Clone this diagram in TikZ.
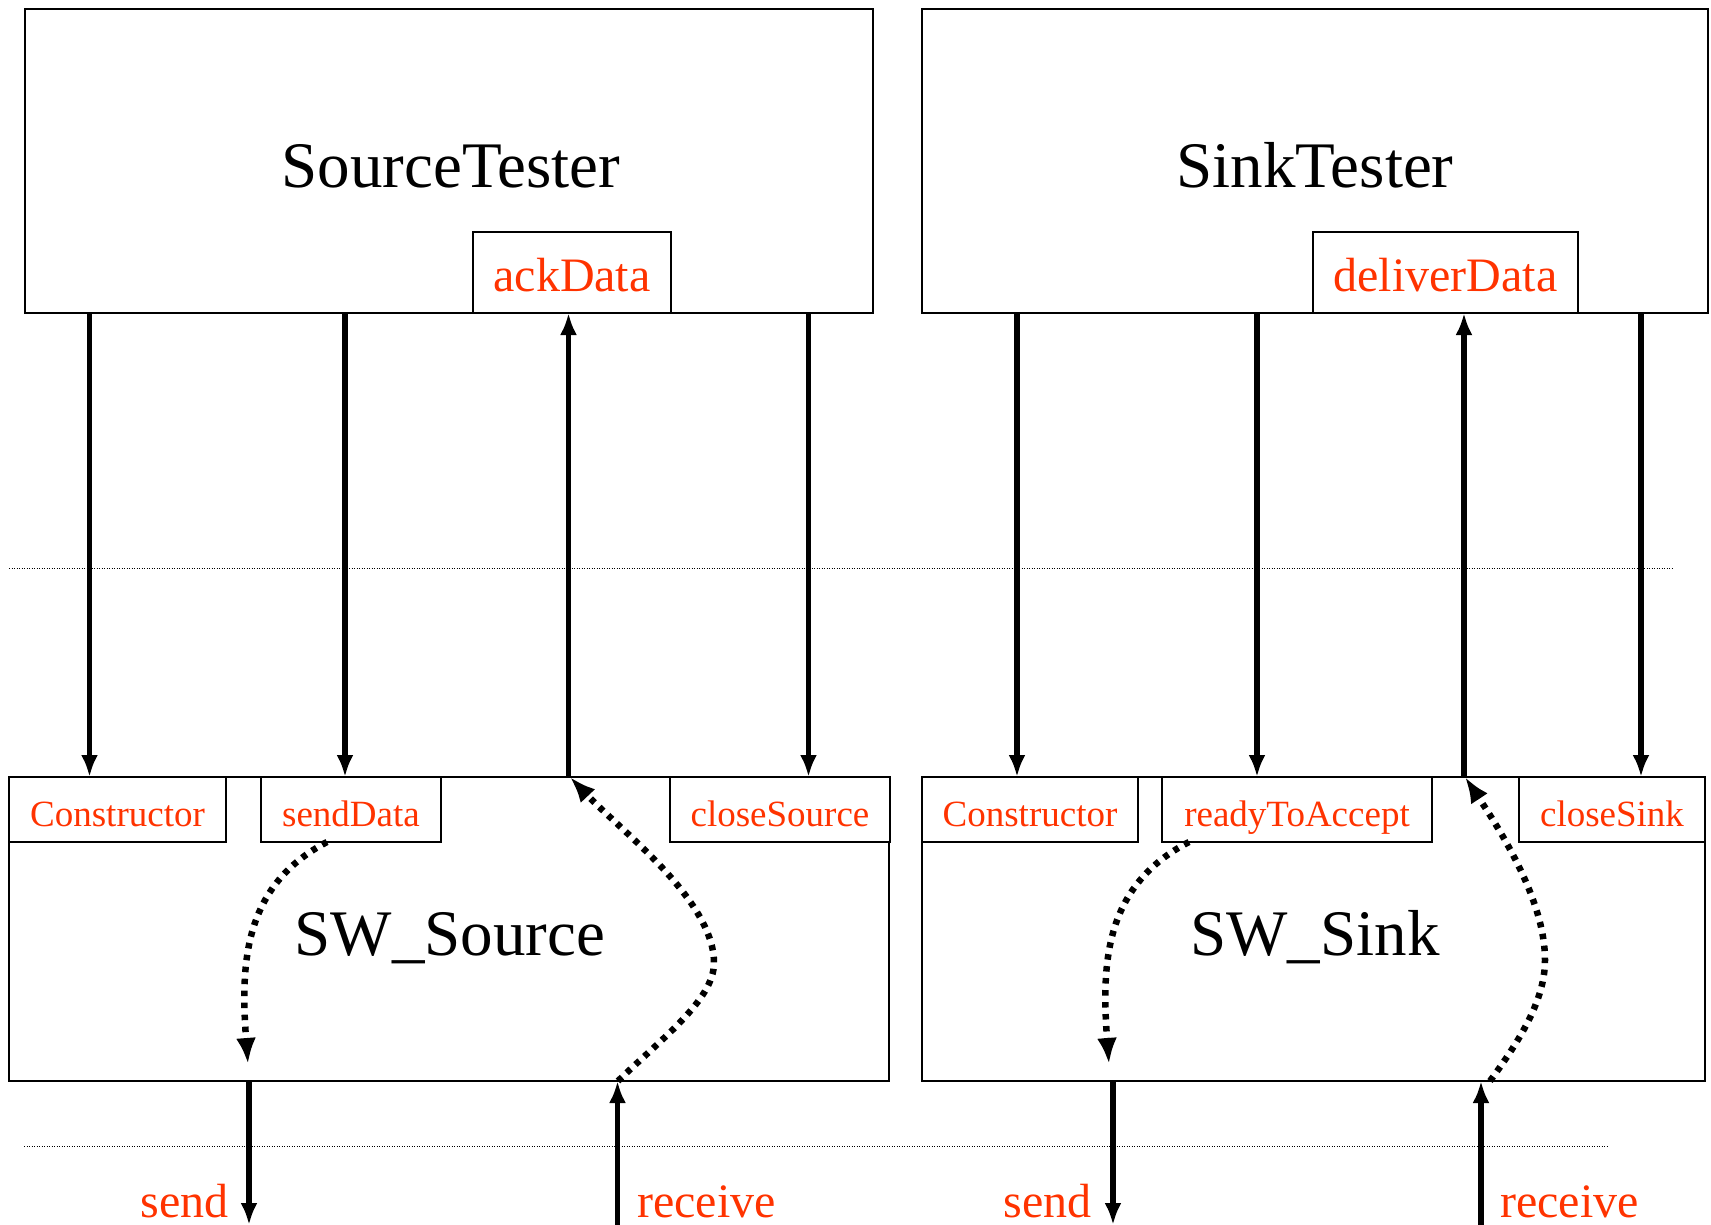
\documentclass[tikz,border=0pt]{standalone}
\usepackage{fontspec}
\setmainfont{Liberation Serif}
\usetikzlibrary{arrows.meta}
\definecolor{lblred}{HTML}{FF3300}
\begin{document}
\begin{tikzpicture}[x=1pt,y=-1pt,
  box/.style={draw=black, line width=1.6pt, fill=white, inner sep=0pt, outer sep=0pt},
  sub/.style={box, minimum height=65pt, text=lblred, font=\fontsize{37}{44}\selectfont, text height=33pt, text depth=0pt},
  top/.style={box, minimum height=81pt, text=lblred, font=\fontsize{48}{58}\selectfont, text height=37pt, text depth=0pt},
  ttl/.style={anchor=base, inner sep=0pt, font=\fontsize{65}{78}\selectfont},
  io/.style={inner sep=0pt, text=lblred, font=\fontsize{48}{58}\selectfont, text depth=0pt},
  arr/.style={line width=5.5pt, -{Latex[length=22pt,width=17pt]}},
  dotarr/.style={line width=6.5pt, dash pattern=on 5.5pt off 6.5pt, -{Latex[length=26pt,width=20pt]}},
  sep/.style={line width=1pt, dash pattern=on 1pt off 1.5pt}
]
\useasboundingbox (0,0) rectangle (1711,1225);

% separators
\coordinate (s1a) at (9,568.5);   \coordinate (s1b) at (1672,568.5);
\coordinate (s2a) at (24,1146);   \coordinate (s2b) at (1607,1146);
\draw[sep] (s1a) -- (s1b);
\draw[sep] (s2a) -- (s2b);

% tester boxes
\node[box, minimum width=848pt, minimum height=304pt] (srcT) at (449,161) {};
\node[box, minimum width=786pt, minimum height=304pt] (sinkT) at (1315,161) {};
\node[ttl] (srcTl) at (451,188) {SourceTester};
\node[ttl] (sinkTl) at (1315,188) {SinkTester};
\node[top, minimum width=198pt] (ack) at (572,272.5) {ackData};
\node[top, minimum width=265pt] (deliver) at (1445.5,272.5) {deliverData};

% software boxes
\node[box, minimum width=880pt, minimum height=304pt] (swSrc) at (449,929) {};
\node[box, minimum width=783pt, minimum height=304pt] (swSink) at (1313.5,929) {};
\node[ttl] (swSrcl) at (450,955) {SW\_Source};
\node[ttl] (swSinkl) at (1315,955) {SW\_Sink};

\node[sub, minimum width=217pt] (ctorA) at (117.5,809.5) {Constructor};
\node[sub, minimum width=180pt] (sendData) at (351,809.5) {sendData};
\node[sub, minimum width=220pt] (closeSource) at (780,809.5) {closeSource};
\node[sub, minimum width=216pt] (ctorB) at (1030,809.5) {Constructor};
\node[sub, minimum width=270pt] (ready) at (1297,809.5) {readyToAccept};
\node[sub, minimum width=186pt] (closeSink) at (1612,809.5) {closeSink};

% vertical connectors, source side
\draw[arr] (srcT.south -| 89.5,0) -- (swSrc.north -| 89.5,0);
\draw[arr] (srcT.south -| 345,0) -- (swSrc.north -| 345,0);
\draw[arr] (swSrc.north -| 568.5,0) -- (ack.south -| 568.5,0);
\draw[arr] (srcT.south -| 808.5,0) -- (swSrc.north -| 808.5,0);

% vertical connectors, sink side
\draw[arr] (sinkT.south -| 1017,0) -- (swSink.north -| 1017,0);
\draw[arr] (sinkT.south -| 1257,0) -- (swSink.north -| 1257,0);
\draw[arr] (swSink.north -| 1464,0) -- (deliver.south -| 1464,0);
\draw[arr] (sinkT.south -| 1641,0) -- (swSink.north -| 1641,0);

% send / receive
\coordinate (sendA) at (249,1225);
\coordinate (recvA) at (617.5,1225);
\coordinate (sendB) at (1113,1225);
\coordinate (recvB) at (1481,1225);
\draw[arr] (swSrc.south -| sendA) -- (sendA);
\draw[arr] (recvA) -- (swSrc.south -| recvA);
\draw[arr] (swSink.south -| sendB) -- (sendB);
\draw[arr] (recvB) -- (swSink.south -| recvB);
\node[io, anchor=base east] (sendAl) at (229,1217) {send};
\node[io, anchor=base west] (recvAl) at (637,1217) {receive};
\node[io, anchor=base east] (sendBl) at (1092,1217) {send};
\node[io, anchor=base west] (recvBl) at (1500,1217) {receive};

% dotted internal flows
\coordinate (dA) at (248,1064);
\coordinate (dB) at (1109,1064);
\draw[dotarr] (sendData.south -| 327,0) .. controls (245,885) and (240,960) .. (dA);
\draw[dotarr] (ready.south -| 1189,0) .. controls (1106,885) and (1101,960) .. (dB);
\draw[dotarr] (swSrc.south -| 618,0) .. controls (660,1040) and (714,1000) .. (714,963)
   .. controls (714,900) and (620,830) .. (swSrc.north -| 570,0);
\draw[dotarr] (swSink.south -| 1490,0) .. controls (1520,1040) and (1545,1000) .. (1545,960)
   .. controls (1545,900) and (1500,830) .. (swSink.north -| 1465,0);
\end{tikzpicture}
\end{document}
